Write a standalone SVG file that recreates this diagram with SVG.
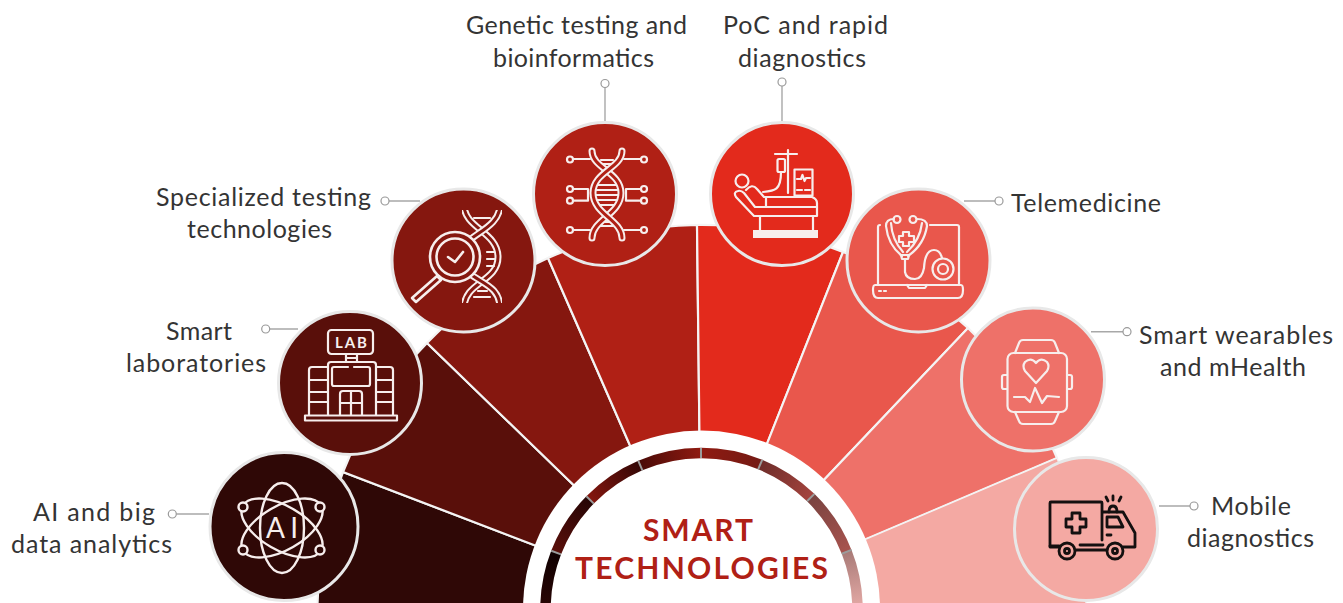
<svg xmlns="http://www.w3.org/2000/svg" width="1343" height="603" viewBox="0 0 1343 603">
<style>
text{font-family:"Lato","Noto Sans","Liberation Sans",sans-serif}
.l{font-size:25px;fill:#343434}
.t{font-size:30px;font-weight:700;fill:#b02015}
.sec{stroke:#f4f4f4;stroke-width:2.2;stroke-linejoin:miter}
.n{stroke:#e8e8e8;stroke-width:3}
.lead{stroke:#a8a8a8;stroke-width:1.4;fill:none}
.dot{stroke:#9a9a9a;stroke-width:1.2;fill:#fff}
.ic{fill:none;stroke:#f7eeed;stroke-width:2.2;stroke-linecap:round;stroke-linejoin:round}
.bk{fill:none;stroke:#141010;stroke-width:2.8;stroke-linecap:round;stroke-linejoin:round}
.seg{fill:none;stroke-width:10.5}
.sep{stroke:#9b9b9b;stroke-width:2}
.fw{fill:#f7eeed;stroke:none}
</style>
<defs>
<linearGradient id="g1" gradientUnits="userSpaceOnUse" x1="546" y1="609" x2="556" y2="552"><stop offset="0" stop-color="#2a0605"/><stop offset="1" stop-color="#100101"/></linearGradient>
<linearGradient id="g2" gradientUnits="userSpaceOnUse" x1="556" y1="552" x2="590" y2="500"><stop offset="0" stop-color="#5a0f0a"/><stop offset="1" stop-color="#260505"/></linearGradient>
<linearGradient id="g3" gradientUnits="userSpaceOnUse" x1="590" y1="500" x2="640" y2="465"><stop offset="0" stop-color="#85170f"/><stop offset="1" stop-color="#330706"/></linearGradient>
<linearGradient id="g4" gradientUnits="userSpaceOnUse" x1="640" y1="465" x2="701" y2="453"><stop offset="0" stop-color="#4a0b07"/><stop offset="1" stop-color="#8f1a11"/></linearGradient>
<linearGradient id="g5" gradientUnits="userSpaceOnUse" x1="701" y1="453" x2="760" y2="465"><stop offset="0" stop-color="#8f1a11"/><stop offset="1" stop-color="#741a14"/></linearGradient>
<linearGradient id="g6" gradientUnits="userSpaceOnUse" x1="760" y1="465" x2="811" y2="498"><stop offset="0" stop-color="#6e2d2a"/><stop offset="1" stop-color="#a5443e"/></linearGradient>
<linearGradient id="g7" gradientUnits="userSpaceOnUse" x1="811" y1="498" x2="847" y2="552"><stop offset="0" stop-color="#7a4340"/><stop offset="1" stop-color="#a8534e"/></linearGradient>
<linearGradient id="g8" gradientUnits="userSpaceOnUse" x1="847" y1="552" x2="857" y2="609"><stop offset="0" stop-color="#a97b78"/><stop offset="1" stop-color="#e5aaa6"/></linearGradient>
<clipPath id="dnaclip"><rect x="462" y="210" width="40" height="93"/></clipPath>
</defs>

<g id="sectors">
<path class="sec" fill="#2f0806" d="M701.5 609L317.5 609A384 384 0 0 1 343 472Z"/>
<path class="sec" fill="#590f0a" d="M701.5 609L343 472A384 384 0 0 1 427 343Z"/>
<path class="sec" fill="#85170f" d="M701.5 609L427 343A384 384 0 0 1 548 258Z"/>
<path class="sec" fill="#b02015" d="M701.5 609L548 258A384 384 0 0 1 697 225Z"/>
<path class="sec" fill="#e32a1c" d="M701.5 609L697 225A384 384 0 0 1 843 252Z"/>
<path class="sec" fill="#e9574c" d="M701.5 609L843 252A384 384 0 0 1 968 328Z"/>
<path class="sec" fill="#ee7169" d="M701.5 609L968 328A384 384 0 0 1 1057 458Z"/>
<path class="sec" fill="#f4a9a3" style="stroke-width:1.4" d="M701.5 609L1057 458A384 384 0 0 1 1086 609Z"/>
</g>

<g id="hub">
<circle cx="701.5" cy="609" r="178.5" fill="#fff"/>
<path class="seg" stroke="url(#g1)" d="M545.5 609A156 156 0 0 1 556.1 552.6"/>
<path class="seg" stroke="url(#g2)" d="M556.1 552.6A156 156 0 0 1 590.1 499.9"/>
<path class="seg" stroke="url(#g3)" d="M590.1 499.9A156 156 0 0 1 640.3 465.5"/>
<path class="seg" stroke="url(#g4)" d="M640.3 465.5A156 156 0 0 1 701 453"/>
<path class="seg" stroke="url(#g5)" d="M701 453A156 156 0 0 1 760.2 464.5"/>
<path class="seg" stroke="url(#g6)" d="M760.2 464.5A156 156 0 0 1 810.7 497.6"/>
<path class="seg" stroke="url(#g7)" d="M810.7 497.6A156 156 0 0 1 846.6 551.8"/>
<path class="seg" stroke="url(#g8)" d="M846.6 551.8A156 156 0 0 1 857.5 609"/>
<g class="sep">
<line x1="551.2" y1="550.8" x2="561" y2="554.4"/>
<line x1="586.4" y1="496.2" x2="593.8" y2="503.6"/>
<line x1="638.2" y1="460.6" x2="642.4" y2="470.4"/>
<line x1="701" y1="448" x2="701" y2="458"/>
<line x1="762.3" y1="459.6" x2="758.1" y2="469.4"/>
<line x1="814.4" y1="493.9" x2="807" y2="501.3"/>
<line x1="851.5" y1="549.9" x2="841.7" y2="553.7"/>
</g>
<text class="t" x="643" y="541" textLength="110">SMART</text>
<text class="t" x="575" y="579" textLength="253">TECHNOLOGIES</text>
</g>

<g id="connectors">
<path class="lead" d="M176.300 514H209M269.700 329H298M389 201H420M605 87.500V121M782 86V121M995 201H964M1123 331.700H1091M1190 506H1159"/>
<circle class="dot" cx="172.300" cy="514" r="4"/>
<circle class="dot" cx="265.700" cy="329" r="4"/>
<circle class="dot" cx="385" cy="201" r="4"/>
<circle class="dot" cx="605" cy="83.500" r="4"/>
<circle class="dot" cx="782" cy="82" r="4"/>
<circle class="dot" cx="999" cy="201" r="4"/>
<circle class="dot" cx="1127" cy="331.700" r="4"/>
<circle class="dot" cx="1194" cy="506" r="4"/>
</g>

<g id="node-ai">
<circle class="n" cx="284" cy="526.500" r="74" fill="#2f0806"/>
<g class="ic" style="stroke-width:2.400">
<ellipse cx="282" cy="528" rx="22" ry="45"/>
<ellipse cx="282" cy="528" rx="22" ry="45" transform="rotate(60 282 528)"/>
<ellipse cx="282" cy="528" rx="22" ry="45" transform="rotate(-60 282 528)"/>
<circle cx="243" cy="507" r="4.500" fill="#2f0806"/>
<circle cx="320" cy="507" r="4.500" fill="#2f0806"/>
<circle cx="243" cy="550" r="4.500" fill="#2f0806"/>
<circle cx="320" cy="550" r="4.500" fill="#2f0806"/>
</g>
<text x="266" y="538" font-size="28" fill="#f7eeed" textLength="32">AI</text>
<text class="l" x="33" y="520.500" textLength="122">AI and big</text>
<text class="l" x="11" y="552.500" textLength="161">data analytics</text>
</g>

<g id="node-lab">
<circle class="n" cx="350" cy="383" r="71.500" fill="#590f0a"/>
<g class="ic">
<rect x="328" y="330" width="45" height="24" rx="3.500"/>
<path d="M346 354V362M357 354V362M346 358H357"/>
<path d="M328 415V365Q328 362 331 362H373Q376 362 376 365V415"/>
<path d="M354 367H368Q370 367 370 369V384Q370 386 368 386H334Q332 386 332 384V369Q332 367 334 367H348"/>
<path d="M340 415V394Q340 391 343 391H359Q362 391 362 394V415M351 391V415M340 403H362"/>
<path d="M328 367H312Q309 367 309 370V415M309 380H328M309 392H328M309 402H328"/>
<path d="M376 367H390Q393 367 393 370V415M376 380H393M376 392H393M376 402H393"/>
<rect x="305" y="415.500" width="92" height="5"/>
</g>
<text x="335" y="348" font-size="15" font-weight="700" fill="#f7eeed" textLength="32">LAB</text>
<text class="l" x="166" y="339.500" textLength="66">Smart</text>
<text class="l" x="126" y="371.500" textLength="140">laboratories</text>
</g>

<g id="node-specialized">
<circle class="n" cx="463.500" cy="260.500" r="71.500" fill="#85170f"/>
<g clip-path="url(#dnaclip)" class="ic">
<path style="stroke-width:7" d="M464 205C464 228 498 232 498 257C498 282 464 282 464 308"/>
<path style="stroke:#85170f;stroke-width:3" d="M464 205C464 228 498 232 498 257C498 282 464 282 464 308"/>
<path style="stroke-width:7" d="M500 205C500 224 478 232 470 240M470 274C484 284 500 288 500 308"/>
<path style="stroke:#85170f;stroke-width:3" d="M500 205C500 224 478 232 470 240M470 274C484 284 500 288 500 308"/>
<path d="M474 218H490M487 252H494M487 259H495M487 266H494M474 297H490M478 291H487"/>
</g>
<g class="ic" style="stroke-width:2.600">
<circle cx="455" cy="257" r="25" fill="#85170f"/>
<circle cx="455" cy="257" r="18.500"/>
<path d="M448 257L455 262L463 252"/>
<path d="M437 276L412 298L416 302L441 280Z"/>
</g>
<text class="l" x="156" y="205.500" textLength="215">Specialized testing</text>
<text class="l" x="187" y="237.500" textLength="145">technologies</text>
</g>

<g id="node-genetic">
<circle class="n" cx="605" cy="194" r="71.500" fill="#b02015"/>
<g class="ic">
<path d="M570 159H590M644 159H624M570 189H588V200.700H570M644 189H626V200.700H644M570 230H590M644 230H624M598 185H616M596 190H618M596 195H618M596 200H618M598 205H616M601 160H613M601 164H613M601 226H613M601 222H613"/>
<circle cx="570" cy="159.500" r="3" fill="#b02015"/><circle cx="644" cy="159.500" r="3" fill="#b02015"/>
<circle cx="570" cy="189" r="3" fill="#b02015"/><circle cx="644" cy="189" r="3" fill="#b02015"/>
<circle cx="570" cy="200.700" r="3" fill="#b02015"/><circle cx="644" cy="200.700" r="3" fill="#b02015"/>
<circle cx="570" cy="230" r="3" fill="#b02015"/><circle cx="644" cy="230" r="3" fill="#b02015"/>
<path style="stroke-width:7" d="M592 151C592 168 621 172 621 193C621 214 592 220 592 238"/>
<path style="stroke:#b02015;stroke-width:3" d="M592 151C592 168 621 172 621 193C621 214 592 220 592 238"/>
<path style="stroke-width:7" d="M622 151C622 168 593 172 593 193C593 214 622 220 622 238"/>
<path style="stroke:#b02015;stroke-width:3" d="M622 151C622 168 593 172 593 193C593 214 622 220 622 238"/>
</g>
<text class="l" x="466" y="34" textLength="221">Genetic testing and</text>
<text class="l" x="493" y="66.500" textLength="161">bioinformatics</text>
</g>

<g id="node-poc">
<circle class="n" cx="782" cy="194" r="71.500" fill="#e32a1c"/>
<g class="ic">
<path d="M788 150V193M775 154H797"/>
<rect x="777.500" y="159" width="7.500" height="13" rx="1.500"/>
<path d="M781 172C781 190 775 191 763 192"/>
<rect x="794.500" y="169.500" width="18" height="26"/>
<path d="M797 179H801L802.500 175L804.500 181L806 178H810M797 190H802M805 190H810"/>
<circle cx="742" cy="181" r="6.500"/>
<path d="M746 190Q752 183 757 189L764 197H812Q817 199 817 203V216H754L736 197Q733 192 738 191Q741 190 744 193L755 207H816"/>
<path d="M766 197V207"/>
<path d="M760 216V230M813 216V230"/>
</g>
<rect class="fw" x="753" y="230" width="65" height="8"/>
<text class="l" x="723" y="34" textLength="165">PoC and rapid</text>
<text class="l" x="738" y="66.500" textLength="128">diagnostics</text>
</g>

<g id="node-telemedicine">
<circle class="n" cx="918.500" cy="260.500" r="71.500" fill="#e9574c"/>
<g class="ic">
<path d="M878 284V227Q878 225 880 225M930 225H957Q959 225 959 227V284"/>
<path d="M875 285H961Q963 285 963 290Q963 298 958 298H878Q873 298 873 290Q873 285 875 285ZM907 285L909 288H925L927 285M879 291H881M884 291H886"/>
<path d="M894 219Q886 219 886 226Q888 245 902 256M917 219Q927 219 927 226Q924 245 908 256M891 223Q892 240 903 252M922 223Q920 240 907 252"/>
<circle cx="897" cy="219.500" r="3.500"/><circle cx="913" cy="219.500" r="3.500"/>
<path d="M903 232H909V236H914V242H909V246H903V242H899V236H903Z"/>
<path d="M901 255H909L908 259H902ZM905 259V272Q906 279 915 279Q922 279 924 268Q925 250 934 250Q940 250 942 258"/>
<circle cx="943" cy="269" r="10.500"/><circle cx="943" cy="269" r="5"/>
</g>
<text class="l" x="1011" y="211.500" textLength="150">Telemedicine</text>
</g>

<g id="node-wearables">
<circle class="n" cx="1033" cy="379.500" r="71.500" fill="#ee7169"/>
<g class="ic">
<rect x="1007.500" y="353" width="59.500" height="59" rx="6"/>
<path d="M1015 353L1019 343Q1020 340 1023 340H1051Q1054 340 1055 343L1059 353"/>
<path d="M1015 412L1019 421Q1020 424 1023 424H1051Q1054 424 1055 421L1059 412"/>
<path d="M1007 375H1004Q1002 375 1002 377V387Q1002 389 1004 389H1007M1067 375H1070Q1072 375 1072 377V387Q1072 389 1070 389H1067"/>
<path d="M1036 383L1025 371Q1022 366 1025 362Q1031 357 1036 363Q1041 357 1047 362Q1050 366 1047 371Z"/>
<path d="M1014 397H1025L1030 402L1035 388L1042 403L1047 396L1059 397"/>
</g>
<text class="l" x="1139" y="343.500" textLength="194">Smart wearables</text>
<text class="l" x="1160" y="375.500" textLength="146">and mHealth</text>
</g>

<g id="node-mobile">
<circle class="n" cx="1086" cy="529" r="71.500" fill="#f4a9a3"/>
<g class="bk">
<path d="M1059 547H1050V503Q1050 502 1051 502H1101Q1102 502 1102 503V540"/>
<path d="M1103 512H1123L1135 533V547H1123"/>
<path d="M1107 517H1118L1123 527H1107Z"/>
<path d="M1107 535H1111"/>
<path d="M1050 546H1059M1076 550H1107M1080 545H1103"/>
<circle cx="1067" cy="551" r="8"/><circle cx="1067" cy="551" r="2.500"/>
<circle cx="1115" cy="551" r="8"/><circle cx="1115" cy="551" r="2.500"/>
<path d="M1072 513H1080V519H1086V527H1080V533H1072V527H1066V519H1072Z"/>
<path d="M1109 512Q1109 506 1113 506Q1117 506 1117 512"/>
<path d="M1106 497L1108 501M1113 496V500M1121 497L1119 501"/>
</g>
<text class="l" x="1211" y="514.500" textLength="80">Mobile</text>
<text class="l" x="1187" y="546.500" textLength="127">diagnostics</text>
</g>
</svg>
